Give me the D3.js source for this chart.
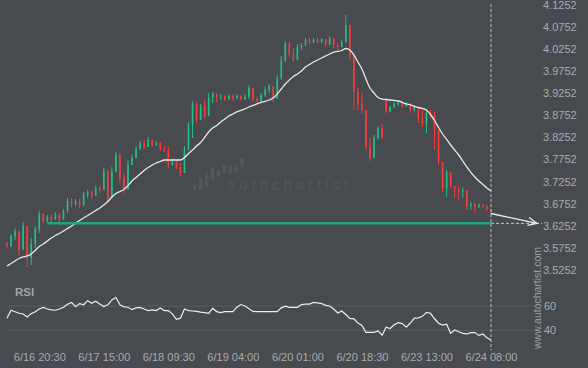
<!DOCTYPE html>
<html><head><meta charset="utf-8">
<script src="https://cdn.jsdelivr.net/npm/d3@7"></script>
<style>
html,body{margin:0;padding:0;background:#474a4f;}
svg{display:block;}
text{font-family:"Liberation Sans",Arial,sans-serif;}
</style></head><body>
<svg id="chart" width="588" height="368"></svg>
<script>
// ---- data ----
const timeLabels = ["6/16 20:30","6/17 15:00","6/18 09:30","6/19 04:00","6/20 01:00","6/20 18:30","6/23 13:00","6/24 08:00"];
const timeIndex = [8,24,40,56,72,88,104,120];
const priceTicks = [3.5252,3.5752,3.6252,3.6752,3.7252,3.7752,3.8252,3.8752,3.9252,3.9752,4.0252,4.0752,4.1252];
const rsiTicks = [40,60];

const opens = [
3.5863,3.5795,3.6021,3.6134,3.5705,3.6247,3.5524,3.5841,3.6179,3.6519,
3.6360,3.6451,3.6405,3.6519,3.6405,3.6586,3.6812,3.6745,3.6812,3.6722,
3.6949,3.7017,3.6926,3.7107,3.7062,3.7491,3.6881,3.7469,3.7853,3.7333,
3.7084,3.7627,3.7785,3.7988,3.8124,3.8034,3.8192,3.8079,3.8124,3.7988,
3.7943,3.7627,3.7695,3.7582,3.7446,3.7966,3.8532,3.9007,3.8645,3.8961,
3.8735,3.9142,3.9233,3.9165,3.9187,3.9119,3.9187,3.9142,3.9187,3.9119,
3.9165,3.9368,3.9119,3.9074,3.9210,3.9323,3.9413,3.9119,3.9594,4.0001,
4.0364,4.0115,4.0001,4.0296,4.0341,4.0454,4.0386,4.0454,4.0409,4.0477,
4.0341,4.0499,4.0341,4.0296,4.0409,4.0793,4.0115,3.9278,3.9007,3.8871,
3.8034,3.7785,3.8237,3.8463,3.9097,3.8826,3.8939,3.9007,3.9029,3.8961,
3.9007,3.8871,3.8939,3.8690,3.8555,3.8803,3.8758,3.8418,3.7695,3.7107,
3.7469,3.7152,3.7084,3.7017,3.7062,3.6699,3.6745,3.6677,3.6722,3.6699,
3.6632];
const closes = [
3.5795,3.6021,3.6134,3.5705,3.6247,3.5524,3.5841,3.6179,3.6519,3.6360,
3.6451,3.6405,3.6519,3.6405,3.6586,3.6812,3.6745,3.6812,3.6722,3.6949,
3.7017,3.6926,3.7107,3.7062,3.7491,3.6881,3.7469,3.7853,3.7333,3.7084,
3.7627,3.7785,3.7988,3.8124,3.8034,3.8192,3.8079,3.8124,3.7988,3.7943,
3.7627,3.7695,3.7582,3.7446,3.7966,3.8532,3.9007,3.8645,3.8961,3.8735,
3.9142,3.9233,3.9165,3.9187,3.9119,3.9187,3.9142,3.9187,3.9119,3.9165,
3.9368,3.9119,3.9074,3.9210,3.9323,3.9413,3.9119,3.9594,4.0001,4.0364,
4.0115,4.0001,4.0296,4.0341,4.0454,4.0386,4.0454,4.0409,4.0477,4.0341,
4.0499,4.0341,4.0296,4.0409,4.0793,4.0115,3.9278,3.9007,3.8871,3.8034,
3.7785,3.8237,3.8463,3.8260,3.8826,3.8939,3.9007,3.9029,3.8961,3.9007,
3.8871,3.8939,3.8690,3.8555,3.8803,3.8758,3.8418,3.7695,3.7107,3.7469,
3.7152,3.7084,3.7017,3.7062,3.6699,3.6745,3.6677,3.6722,3.6699,3.6632,
3.6564];
const highs = [
3.5886,3.6067,3.6202,3.6134,3.6338,3.6247,3.5976,3.6247,3.6586,3.6541,
3.6496,3.6519,3.6564,3.6541,3.6632,3.6881,3.6881,3.6858,3.6858,3.7017,
3.7062,3.7062,3.7152,3.7152,3.7559,3.7514,3.7582,3.7921,3.7898,3.7446,
3.7740,3.7876,3.8056,3.8169,3.8192,3.8260,3.8215,3.8169,3.8147,3.8056,
3.8056,3.7763,3.7740,3.7672,3.8056,3.8600,3.9074,3.9052,3.9007,3.9097,
3.9255,3.9278,3.9255,3.9233,3.9210,3.9233,3.9233,3.9233,3.9210,3.9233,
3.9436,3.9368,3.9165,3.9255,3.9391,3.9459,3.9413,3.9662,4.0092,4.0431,
4.0409,4.0273,4.0364,4.0386,4.0499,4.0499,4.0499,4.0499,4.0499,4.0477,
4.0544,4.0499,4.0386,4.0454,4.1019,4.0793,4.0115,3.9368,3.9255,3.8871,
3.8237,3.8305,3.8509,3.8555,3.9097,3.8961,3.9052,3.9074,3.9074,3.9052,
3.9029,3.8984,3.8939,3.8871,3.8871,3.8871,3.8826,3.8418,3.7695,3.7514,
3.7469,3.7152,3.7152,3.7130,3.7062,3.6790,3.6767,3.6767,3.6745,3.6722,
3.6632];
const lows = [
3.5750,3.5772,3.5931,3.5592,3.5705,3.5320,3.5366,3.5750,3.6089,3.6315,
3.6338,3.6315,3.6383,3.6338,3.6383,3.6541,3.6677,3.6699,3.6654,3.6699,
3.6881,3.6858,3.6926,3.6994,3.7062,3.6767,3.6881,3.7469,3.7220,3.6994,
3.7062,3.7627,3.7785,3.7966,3.7988,3.8034,3.8034,3.8056,3.7943,3.7921,
3.7559,3.7604,3.7536,3.7378,3.7446,3.7966,3.8237,3.8577,3.8645,3.8690,
3.8735,3.9029,3.9052,3.9097,3.9074,3.9097,3.9074,3.9119,3.9074,3.9097,
3.9119,3.9052,3.9029,3.9052,3.9165,3.9255,3.9052,3.9119,3.9549,3.9956,
4.0070,3.9956,4.0001,4.0228,4.0318,4.0364,4.0386,4.0386,4.0386,4.0296,
4.0341,4.0273,4.0228,4.0296,4.0386,4.0001,3.8871,3.8871,3.8781,3.7966,
3.7717,3.7785,3.8192,3.8215,3.8803,3.8826,3.8916,3.8961,3.8916,3.8939,
3.8803,3.8826,3.8577,3.8487,3.8350,3.8690,3.7966,3.7627,3.7017,3.6903,
3.7107,3.6881,3.6835,3.6881,3.6609,3.6609,3.6541,3.6654,3.6654,3.6586,
3.6519];
const movingAvg = [
3.5343,3.5400,3.5456,3.5513,3.5547,3.5569,3.5615,3.5694,3.5784,3.5841,
3.5908,3.5976,3.6033,3.6078,3.6134,3.6191,3.6247,3.6315,3.6372,3.6428,
3.6485,3.6541,3.6598,3.6654,3.6722,3.6801,3.6903,3.6982,3.7028,3.7073,
3.7163,3.7265,3.7344,3.7423,3.7503,3.7570,3.7627,3.7672,3.7706,3.7740,
3.7740,3.7740,3.7740,3.7740,3.7797,3.7887,3.7966,3.8056,3.8135,3.8249,
3.8373,3.8463,3.8520,3.8600,3.8667,3.8735,3.8781,3.8826,3.8860,3.8894,
3.8939,3.8973,3.9007,3.9041,3.9063,3.9097,3.9142,3.9233,3.9346,3.9459,
3.9549,3.9628,3.9685,3.9753,3.9843,3.9900,3.9956,4.0001,4.0047,4.0092,
4.0137,4.0182,4.0194,4.0216,4.0262,4.0228,4.0115,3.9956,3.9798,3.9572,
3.9368,3.9255,3.9153,3.9119,3.9108,3.9097,3.9086,3.9074,3.9041,3.9007,
3.8984,3.8950,3.8928,3.8905,3.8871,3.8769,3.8634,3.8475,3.8328,3.8204,
3.8079,3.7966,3.7853,3.7717,3.7582,3.7458,3.7356,3.7265,3.7186,3.7107,
3.7039];
const rsi = [
49.9,56.5,55.3,54.0,53.4,51.0,53.7,55.3,57.5,58.9,
57.5,56.8,56.5,57.5,58.9,61.5,63.0,59.5,62.0,61.0,
64.4,62.2,64.0,61.6,59.5,61.0,65.0,67.0,61.0,59.3,
59.0,57.0,58.4,58.9,57.5,56.2,56.8,56.2,58.4,56.2,
56.2,53.5,49.0,50.0,57.5,56.2,55.9,55.6,55.0,54.5,
54.0,58.0,55.4,54.5,55.4,55.4,55.4,59.0,61.2,60.0,
57.8,55.5,55.4,55.4,55.4,55.4,55.4,55.4,58.5,59.8,
58.9,58.9,58.9,61.2,61.6,61.6,63.0,62.5,62.0,60.5,
60.0,57.5,54.3,55.9,53.0,49.8,49.4,46.0,44.0,38.3,
38.3,38.3,39.5,36.0,42.5,41.5,44.5,46.3,45.5,42.5,
46.0,50.0,50.3,51.5,54.8,54.0,49.5,45.8,44.3,45.0,
37.5,40.3,38.8,37.5,37.0,38.1,38.1,35.8,37.0,33.8,
32.0];
const supportLevel = 3.6308;
const supportStartIndex = 10;
const forecastStart = 3.6530;

// ---- drawing ----
const W = 588, H = 368;
const BG = "#474a4f", GREEN = "#21bf8a", RED = "#f83c3c";
const svg = d3.select("#chart");
svg.append("rect").attr("width", W).attr("height", H).attr("fill", BG);

const last = closes.length - 1;
const x = d3.scaleLinear().domain([0, last]).range([7, 491]);
const y = d3.scaleLinear().domain([3.5252, 4.1252]).range([270, 4.7]);
const yr = d3.scaleLinear().domain([40, 60]).range([330.3, 306]);

// watermark logo
const wm = svg.append("g").attr("fill", "#53565c");
const logoBars = [[0,5],[1,12],[2,14],[3,13],[4,7],[5,8],[6,8],[7,7],[8,9]];
const logoTops = [185,178,173,167,170,165,165,165,158];
logoBars.forEach((b,k) => {
  wm.append("rect").attr("x", 193 + b[0]*5.9).attr("y", logoTops[k]).attr("width", 3.6)
    .attr("height", b[1]).attr("rx", 1);
});
wm.append("text").attr("x", 227).attr("y", 190).attr("font-size", 15)
  .attr("textLength", 121).attr("lengthAdjust", "spacing")
  .attr("fill", "#53565c").text("autochartist");

// RSI grid
svg.selectAll("line.rg").data(rsiTicks).enter().append("line")
  .attr("x1", 7).attr("x2", 538).attr("y1", d => yr(d)).attr("y2", d => yr(d))
  .attr("stroke", "#5b5e64").attr("stroke-width", 1);

// candles
const cg = svg.append("g");
closes.forEach((c, i) => {
  const o = opens[i];
  const col = c >= o ? GREEN : RED;
  const hi = Math.max(highs[i], o, c), lo = Math.min(lows[i], o, c);
  cg.append("line").attr("x1", x(i)).attr("x2", x(i))
    .attr("y1", y(hi)).attr("y2", y(lo)).attr("stroke", col).attr("stroke-width", 1);
  const top = y(Math.max(o, c)), bot = y(Math.min(o, c));
  cg.append("rect").attr("x", x(i) - 0.8).attr("width", 1.6)
    .attr("y", top).attr("height", Math.max(1, bot - top)).attr("fill", col);
});

// moving average
svg.append("path").datum(movingAvg)
  .attr("d", d3.line().x((d, i) => x(i)).y(d => y(d)).curve(d3.curveMonotoneX))
  .attr("fill", "none").attr("stroke", "#e8e8e8").attr("stroke-width", 1.3);

// support line
svg.append("line").attr("x1", x(supportStartIndex)).attr("x2", x(last))
  .attr("y1", y(supportLevel)).attr("y2", y(supportLevel))
  .attr("stroke", "#22a57b").attr("stroke-width", 2.5);

// vertical dashed line at last bar
svg.append("line").attr("x1", x(last)).attr("x2", x(last)).attr("y1", 4).attr("y2", 350)
  .attr("stroke", "#b9bcc0").attr("stroke-width", 1).attr("stroke-dasharray", "3,2");

// projection dashed line
svg.append("line").attr("x1", x(last)).attr("x2", x(last) + 51)
  .attr("y1", y(supportLevel)).attr("y2", y(supportLevel))
  .attr("stroke", "#c8cacd").attr("stroke-width", 1).attr("stroke-dasharray", "3,2");

// forecast arrow
const ax0 = x(last), ay0 = y(forecastStart), ax1 = x(last) + 46, ay1 = y(supportLevel);
svg.append("line").attr("x1", ax0).attr("y1", ay0).attr("x2", ax1).attr("y2", ay1)
  .attr("stroke", "#f0f0f0").attr("stroke-width", 1.3);
const len = Math.hypot(ax1 - ax0, ay1 - ay0), ux = (ax1 - ax0) / len, uy = (ay1 - ay0) / len;
const bx = ax1 - 9 * ux, by = ay1 - 9 * uy;
svg.append("polyline")
  .attr("points", [[bx - 4 * uy, by + 4 * ux], [ax1, ay1], [bx + 4 * uy, by - 4 * ux]].map(p => p.join(",")).join(" "))
  .attr("fill", "none").attr("stroke", "#f0f0f0").attr("stroke-width", 1.3);

// RSI line
svg.append("path").datum(rsi)
  .attr("d", d3.line().x((d, i) => x(i)).y(d => yr(d)))
  .attr("fill", "none").attr("stroke", "#eeeeee").attr("stroke-width", 1.2);

// axes
const TXT = "#a9acb1";
const ya = svg.append("g").attr("transform", "translate(543,0)")
  .call(d3.axisRight(y).tickValues(priceTicks).tickFormat(d3.format(".4f")).tickSize(0).tickPadding(0));
ya.select(".domain").remove();
ya.selectAll("text").attr("fill", TXT).attr("font-size", 11).attr("font-family", "Liberation Sans, Arial, sans-serif");

const ra = svg.append("g").attr("transform", "translate(544,0)")
  .call(d3.axisRight(yr).tickValues(rsiTicks).tickFormat(d3.format("d")).tickSize(0).tickPadding(0));
ra.select(".domain").remove();
ra.selectAll("text").attr("fill", TXT).attr("font-size", 11).attr("font-family", "Liberation Sans, Arial, sans-serif");

const xa = svg.append("g").attr("transform", "translate(0,350)")
  .call(d3.axisBottom(x).tickValues(timeIndex).tickFormat((d, k) => timeLabels[k]).tickSize(0).tickPadding(3.2));
xa.select(".domain").remove();
xa.selectAll("text").attr("fill", TXT).attr("font-size", 11).attr("font-family", "Liberation Sans, Arial, sans-serif");

svg.append("text").attr("x", 15).attr("y", 295.5).attr("font-size", 11.5).attr("font-weight", "bold")
  .attr("fill", "#a0a4ab").text("RSI");

svg.append("text").attr("transform", "translate(541,349) rotate(-90)")
  .attr("font-size", 10.5).attr("textLength", 102).attr("lengthAdjust", "spacing")
  .attr("fill", "#9c9fa5").text("www.autochartist.com");
</script>
</body></html>
